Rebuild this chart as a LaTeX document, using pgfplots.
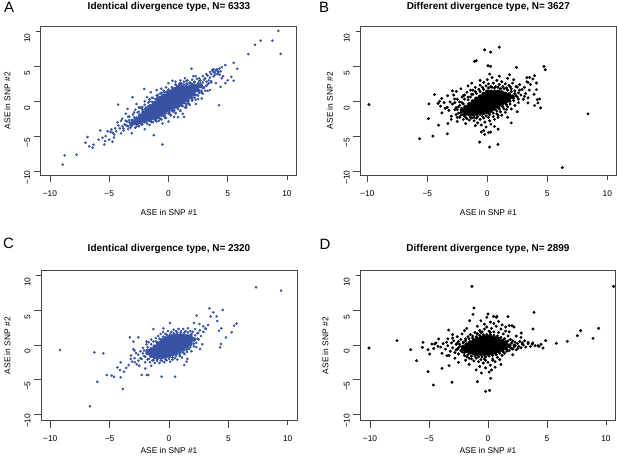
\documentclass[border=0pt]{standalone}
\usepackage{fontspec}
\setmainfont{Liberation Sans}
\usepackage{pgfplots}
\pgfplotsset{compat=1.18}
\definecolor{ptblue}{RGB}{56,82,164}
\definecolor{axgray}{RGB}{70,70,70}
\pgfplotsset{
  panel/.style={
    width=256bp,height=149.5bp,scale only axis,anchor=south west,
    axis line style={axgray,line width=0.6bp},
    xtick={-10,-5,0,5,10}, ytick={-10,-5,0,5,10},
    xticklabels={−10,−5,0,5,10}, yticklabels={−10,−5,0,5,10},
    xtick pos=bottom, ytick pos=left,
    tick align=outside, major tick length=7bp,
    tick style={axgray,line width=0.6bp,shorten <=2.4bp},
    tick label style={font=\fontsize{8.4}{9}\selectfont},
    xticklabel style={anchor=north,yshift=-4.5bp},
    yticklabel style={rotate=90,anchor=south,xshift=-6.5bp},
  },
  core/.style={only marks,mark=*,mark size=2.1pt},
  halo/.style={only marks,mark=*,mark size=1.1pt},
}
\begin{document}
\begin{tikzpicture}
\useasboundingbox (0,0) rectangle (617bp,459bp);
% ---------------- A ----------------
\begin{axis}[panel,at={(40.7bp,283.5bp)},xmin=-10.78,xmax=10.82,ymin=-10.65,ymax=10.8]
\addplot[core,color=ptblue] coordinates {
(-3.0,-3.1)
(-2.7,-3.1)(-2.7,-2.8)(-2.7,-2.5)
(-2.4,-2.95)(-2.4,-2.65)(-2.4,-2.35)(-2.4,-2.05)
(-2.1,-2.8)(-2.1,-2.5)(-2.1,-2.2)(-2.1,-1.9)(-2.1,-1.6)
(-1.8,-2.65)(-1.8,-2.35)(-1.8,-2.05)(-1.8,-1.75)(-1.8,-1.45)(-1.8,-1.15)
(-1.5,-2.5)(-1.5,-2.2)(-1.5,-1.9)(-1.5,-1.6)(-1.5,-1.3)(-1.5,-1.0)(-1.5,-0.7)
(-1.2,-2.35)(-1.2,-2.05)(-1.2,-1.75)(-1.2,-1.45)(-1.2,-1.15)(-1.2,-0.85)(-1.2,-0.55)(-1.2,-0.25)
(-0.9,-2.2)(-0.9,-1.9)(-0.9,-1.6)(-0.9,-1.3)(-0.9,-1.0)(-0.9,-0.7)(-0.9,-0.4)(-0.9,-0.1)(-0.9,0.2)
(-0.6,-1.9)(-0.6,-1.6)(-0.6,-1.3)(-0.6,-1.0)(-0.6,-0.7)(-0.6,-0.4)(-0.6,-0.1)(-0.6,0.2)(-0.6,0.5)
(-0.3,-1.6)(-0.3,-1.3)(-0.3,-1.0)(-0.3,-0.7)(-0.3,-0.4)(-0.3,-0.1)(-0.3,0.2)(-0.3,0.5)(-0.3,0.8)
(0,-1.3)(0,-1.0)(0,-0.7)(0,-0.4)(0,-0.1)(0,0.2)(0,0.5)(0,0.8)(0,1.1)
(0.3,-1.0)(0.3,-0.7)(0.3,-0.4)(0.3,-0.1)(0.3,0.2)(0.3,0.5)(0.3,0.8)(0.3,1.1)(0.3,1.4)
(0.6,-0.75)(0.6,-0.45)(0.6,-0.15)(0.6,0.15)(0.6,0.45)(0.6,0.75)(0.6,1.05)(0.6,1.35)(0.6,1.65)
(0.9,-0.5)(0.9,-0.2)(0.9,0.1)(0.9,0.4)(0.9,0.7)(0.9,1.0)(0.9,1.3)(0.9,1.6)(0.9,1.9)
(1.2,-0.15)(1.2,0.15)(1.2,0.45)(1.2,0.75)(1.2,1.05)(1.2,1.35)(1.2,1.65)(1.2,1.95)
(1.5,0.2)(1.5,0.5)(1.5,0.8)(1.5,1.1)(1.5,1.4)(1.5,1.7)(1.5,2.0)
(1.8,0.6)(1.8,0.9)(1.8,1.2)(1.8,1.5)(1.8,1.8)(1.8,2.1)
(2.1,1.0)(2.1,1.3)(2.1,1.6)(2.1,1.9)(2.1,2.2)
(2.4,1.6)(2.4,1.9)(2.4,2.2)
(2.7,2.2)
};
\addplot[halo,color=ptblue] coordinates {
(-3.4,-2.2)(-3.0,-1.9)(-2.8,-1.2)(-2.6,-1.6)(-2.4,-0.9)(-2.2,-1.2)(-2.0,-0.5)(-1.9,-0.9)(-1.7,-0.2)(-1.6,0.3)
(-1.4,-0.1)(-1.3,0.5)(-1.1,0.3)(-1.0,0.8)(-0.8,0.6)(-0.7,1.1)(-0.5,0.9)(-0.4,1.5)(-0.2,1.3)(0.0,1.7)
(0.1,1.5)(0.3,2.0)(0.5,1.9)(0.6,2.4)(0.8,2.2)(1.0,2.6)(1.1,2.3)(1.3,2.8)(1.5,2.5)(1.6,3.0)
(1.8,2.7)(2.0,3.1)(2.2,2.8)(2.4,3.2)(2.1,3.6)(2.7,3.0)(2.9,2.7)(3.1,3.3)(3.3,3.7)(3.6,3.9)
(3.8,4.2)(4.0,4.4)(4.2,4.1)(3.9,3.8)(4.1,4.6)(3.7,4.5)(4.4,4.3)
(-2.5,-3.6)(-2.2,-3.3)(-2.0,-3.0)(-1.8,-3.2)(-1.6,-2.8)(-1.4,-3.0)(-1.2,-2.6)(-1.0,-2.9)(-0.8,-2.4)(-0.6,-2.6)
(-0.4,-2.1)(-0.2,-2.4)(0.0,-1.8)(0.2,-2.0)(0.4,-1.5)(0.6,-1.7)(0.8,-1.1)(1.0,-1.3)(1.2,-0.7)(1.4,-0.9)
(1.6,-0.3)(1.8,-0.5)(2.0,0.1)(2.2,0.5)(2.4,0.9)(2.6,1.2)(2.8,1.5)(3.0,1.9)(3.2,2.2)(3.4,2.6)
(3.6,2.9)(2.9,1.1)(3.3,1.5)(2.5,0.3)
(-3.2,-3.2)(-3.4,-3.6)(-3.6,-3.4)(-3.8,-3.9)(-3.5,-2.9)(-3.1,-3.5)(-3.3,-2.7)(-2.9,-3.3)(-2.7,-3.6)
(-8.93,-9.1)(-8.76,-7.76)(-7.75,-7.67)(-7.0,-5.95)(-6.83,-5.14)(-6.69,-6.48)(-6.4,-6.67)(-6.32,-6.24)
(-5.56,-5.24)(-5.42,-6.19)(-5.34,-5.71)(-5.3,-5.0)(-4.72,-4.52)(-4.8,-4.05)(-4.58,-4.76)(-4.24,-3.48)
(-4.72,-5.81)(-5.76,-4.19)(-5.14,-4.29)(-4.9,-4.4)(-4.4,-4.3)(-4.1,-3.9)(-3.9,-3.6)(-3.7,-3.3)
(-3.5,-3.5)(-3.3,-3.0)(-3.6,-2.8)(-3.2,-3.4)(-3.0,-2.7)(-2.9,-3.2)(-4.3,-3.0)(-4.0,-4.6)(-3.8,-4.2)
(-4.5,-3.9)(-3.4,-4.0)(-2.8,-3.8)(-2.5,-3.5)(-3.9,-2.5)(-4.24,-0.48)(-3.45,-1.1)(-3.03,0.57)
(-2.05,1.76)(-1.24,-4.86)(-0.5,-6.2)(0.48,-2.24)(1.32,-2.24)(-5.0,-5.5)(-5.9,-5.5)(-4.6,-5.2)
(-3.1,-4.6)(-2.0,-4.0)(-1.6,-3.4)(-2.3,-1.0)(-2.7,-0.4)(-1.8,0.6)(-1.5,1.3)(-1.0,1.6)(-0.6,1.8)
(-0.2,2.0)(0.34,2.95)(0.0,2.6)(0.6,2.8)(1.0,3.0)(1.4,3.3)(1.94,4.67)(2.3,3.6)(2.6,3.3)(2.9,3.6)
(3.2,3.9)(3.5,4.2)(3.7,4.4)(3.9,4.1)(4.0,4.5)(4.2,4.3)(4.1,3.9)(3.8,4.6)(4.3,4.7)(4.5,4.9)
(4.6,3.6)(4.4,2.05)(4.8,2.6)(5.3,3.5)(5.5,2.95)(4.8,5.2)(5.5,5.5)(5.8,4.67)(4.27,-0.57)
(6.74,6.76)(7.3,8.1)(7.78,8.7)(8.76,8.7)(9.27,10.1)(9.47,6.8)(3.0,2.0)(3.3,2.4)(3.1,1.5)
(2.8,1.2)(2.5,0.8)(2.2,1.0)(2.0,0.3)(1.7,-0.3)(1.5,-0.9)(1.0,-1.4)(0.6,-1.7)(0.2,-2.0)
(-0.3,-2.4)(-0.8,-2.8)(-1.3,-3.0)(-0.5,-3.2)(0.0,-2.9)(3.4,3.0)(3.6,2.7)(2.7,2.6)(3.0,3.1)
(2.4,2.2)(2.6,1.6)(1.8,2.6)(1.5,2.9)(1.1,2.5)(0.7,2.2)(0.3,1.9)(-0.4,1.3)(-0.9,0.9)(-1.4,0.5)
(-2.0,0.0)(-2.5,-0.9)(-2.9,-1.6)(-3.3,-2.2)(-4.0,-2.8)(-3.6,-1.8)(2.3,-0.4)(2.8,0.4)(3.5,1.6)
(4.0,2.6)(4.5,3.3)(5.0,3.0)(1.2,-1.8)(0.8,-2.3)
(-2.5,-1.5)(-2.3,-3.3)(-2.0,-1.1)(-1.9,-2.9)(-1.7,-0.7)(-1.5,-2.9)(-1.3,-0.2)(-1.1,-2.7)(-0.9,0.5)(-0.7,-2.5)
(-0.5,0.7)(-0.3,-2.1)(-0.1,1.4)(0.1,-1.7)(0.4,1.7)(0.5,-1.3)(0.7,2.0)(0.8,-0.9)(1.0,2.3)(1.1,-0.6)
(1.3,2.4)(1.4,-0.3)(1.6,2.5)(1.7,0.1)(1.9,2.6)(2.0,0.5)(2.2,2.7)(2.3,0.9)(2.5,2.6)(2.6,1.4)
(2.8,2.3)(2.9,1.9)(2.6,2.9)(-2.9,-2.3)(-3.1,-2.7)(-3.2,-3.8)(-2.6,-3.2)(-2.3,-2.6)(-1.0,-2.5)(0.3,-1.4)
(1.5,-0.6)(2.3,0.2)(-1.6,0.0)(-0.6,1.2)(0.9,2.5)(2.0,2.5)(-2.2,-0.8)(3.2,2.8)(3.5,3.4)(3.8,3.6)(4.3,3.8)
};
\end{axis}
% ---------------- B ----------------
\begin{axis}[panel,at={(360.3bp,283.5bp)},xmin=-10.58,xmax=10.75,ymin=-10.65,ymax=10.8]
\addplot[core,color=black] coordinates {
(-2.1,-1.35)(-2.1,-1.15)
(-1.8,-1.75)(-1.8,-1.45)(-1.8,-1.15)(-1.8,-0.85)
(-1.5,-1.85)(-1.5,-1.55)(-1.5,-1.25)(-1.5,-0.95)(-1.5,-0.65)(-1.5,-0.45)
(-1.2,-1.85)(-1.2,-1.55)(-1.2,-1.25)(-1.2,-0.95)(-1.2,-0.65)(-1.2,-0.35)(-1.2,-0.05)
(-0.9,-1.75)(-0.9,-1.45)(-0.9,-1.15)(-0.9,-0.85)(-0.9,-0.55)(-0.9,-0.25)(-0.9,0.05)(-0.9,0.35)
(-0.6,-1.75)(-0.6,-1.45)(-0.6,-1.15)(-0.6,-0.85)(-0.6,-0.55)(-0.6,-0.25)(-0.6,0.05)(-0.6,0.35)(-0.6,0.65)
(-0.3,-1.65)(-0.3,-1.35)(-0.3,-1.05)(-0.3,-0.75)(-0.3,-0.45)(-0.3,-0.15)(-0.3,0.15)(-0.3,0.45)(-0.3,0.75)(-0.3,1.05)
(0,-1.55)(0,-1.25)(0,-0.95)(0,-0.65)(0,-0.35)(0,-0.05)(0,0.25)(0,0.55)(0,0.85)(0,1.15)(0,1.35)
(0.3,-1.35)(0.3,-1.05)(0.3,-0.75)(0.3,-0.45)(0.3,-0.15)(0.3,0.15)(0.3,0.45)(0.3,0.75)(0.3,1.05)(0.3,1.35)
(0.6,-1.05)(0.6,-0.75)(0.6,-0.45)(0.6,-0.15)(0.6,0.15)(0.6,0.45)(0.6,0.75)(0.6,1.05)(0.6,1.35)
(0.9,-0.75)(0.9,-0.45)(0.9,-0.15)(0.9,0.15)(0.9,0.45)(0.9,0.75)(0.9,1.05)(0.9,1.35)
(1.2,-0.45)(1.2,-0.15)(1.2,0.15)(1.2,0.45)(1.2,0.75)(1.2,1.05)(1.2,1.25)
(1.5,-0.15)(1.5,0.15)(1.5,0.45)(1.5,0.75)(1.5,1.05)
(1.8,0.15)(1.8,0.45)(1.8,0.75)(1.8,0.95)
(2.1,0.65)
};
\addplot[halo,mark size=1.3pt,color=black] coordinates {
(-2.9,-0.4)(-2.7,-1.2)(-2.6,-1.9)(-2.5,0.3)(-2.4,-0.8)(-2.3,-2.3)(-2.3,-0.1)(-2.2,-1.6)(-2.1,0.6)(-2.0,-2.6)
(-2.0,-0.4)(-1.9,0.9)(-1.9,-2.2)(-1.7,1.3)(-1.7,-2.5)(-1.6,0.2)(-1.5,-2.7)(-1.4,0.6)(-1.4,1.6)(-1.3,-2.4)
(-1.2,1.0)(-1.1,-2.8)(-1.0,1.4)(-1.0,2.0)(-0.9,-2.4)(-0.8,-3.1)(-0.7,1.7)(-0.6,2.3)(-0.6,-2.6)(-0.5,-3.4)
(-0.4,2.0)(-0.3,-2.4)(-0.3,2.7)(-0.2,-3.0)(-0.1,2.2)(-0.1,-3.7)(0.0,3.1)(0.1,-2.3)(0.1,2.5)(0.2,-2.8)
(0.3,2.1)(0.3,-3.3)(0.4,3.4)(0.5,-2.2)(0.5,2.6)(0.6,-2.6)(0.7,2.1)(0.8,-1.8)(0.8,3.0)(0.9,-2.3)
(1.0,2.4)(1.1,-1.5)(1.2,2.8)(1.2,-2.0)(1.3,2.1)(1.4,-1.1)(1.5,2.5)(1.5,-1.6)(1.6,1.9)(1.7,-0.8)
(1.8,2.3)(1.9,-0.4)(2.0,1.8)(2.0,-1.1)(2.1,2.6)(2.2,0.1)(2.3,1.5)(2.3,-0.6)(2.4,2.1)(2.5,0.6)
(2.6,1.2)(2.6,-0.2)(2.7,2.4)(2.8,0.9)(2.9,1.7)(3.0,0.3)(3.1,2.0)(3.2,1.1)(3.3,2.8)(3.4,0.5)
(3.5,1.6)(3.6,2.4)(2.2,3.1)(1.7,3.3)(1.0,3.6)(0.2,3.9)(-0.6,3.0)(-1.3,2.6)(-2.8,0.9)(-3.1,-0.1)
(-3.2,-1.3)(-2.5,-2.9)(-1.8,-3.2)(-1.0,-3.5)(0.6,-3.6)(1.7,-2.3)(2.5,-1.5)
(-3.6,-0.2)(-3.8,0.4)(-3.5,-1.0)(-4.1,-0.3)(-3.3,0.8)(-2.9,1.5)(-3.0,-2.6)(-2.2,1.8)(-1.6,2.2)(3.8,3.2)
(3.9,1.0)(3.3,3.4)(0.9,-4.0)(-0.3,-4.2)(0.1,-4.5)(-0.5,-4.4)
(-9.86,-0.48)(-5.64,-5.38)(-4.53,-5.0)(-3.33,-4.67)(-4.9,-2.5)(-4.86,-0.38)(-4.4,0.95)(-3.97,0.0)
(-3.9,-0.7)(-3.78,-1.67)(-4.06,-3.43)(-3.28,-3.19)(-3.0,-2.14)(-2.58,1.43)(-2.72,0.33)(-3.33,-0.86)
(-1.06,5.71)(-0.92,5.81)(-0.22,7.38)(0.28,7.05)(1.0,7.76)(0.06,5.1)(0.28,5.0)(2.42,4.86)
(4.72,5.0)(4.83,4.52)(1.86,3.81)(-0.64,-5.86)(0.89,-6.19)(0.19,-6.57)(-0.22,-4.76)(0.28,-4.43)
(2.0,-3.1)(8.39,-1.81)(6.25,-9.52)(4.17,0.24)(4.22,-0.24)(4.36,0.33)(4.44,-0.95)(3.94,-0.62)
(4.1,1.67)(4.1,2.62)(3.39,2.71)(3.53,3.43)(3.94,3.67)(2.5,2.05)(3.1,0.71)(3.39,-0.24)
(-2.5,-1.2)(-2.4,-1.7)(-2.3,-0.6)(-2.2,-2.0)(-2.1,-0.2)(-2.0,-1.9)(-1.9,0.3)(-1.8,-2.3)(-1.6,0.6)(-1.4,-2.3)
(-1.3,1.0)(-1.1,-2.3)(-0.9,1.1)(-0.8,-2.2)(-0.6,1.4)(-0.4,-2.2)(-0.3,1.7)(-0.1,-2.1)(0.1,1.9)(0.2,-1.9)
(0.4,2.0)(0.5,-1.7)(0.6,1.9)(0.8,-1.4)(0.9,2.0)(1.0,-1.1)(1.1,1.8)(1.3,-0.8)(1.4,1.8)(1.6,-0.5)
(1.7,1.6)(1.9,0.0)(2.0,1.4)(2.2,0.4)(2.3,1.1)(2.4,0.8)(-2.6,-0.9)(-2.7,-0.2)(2.6,0.3)(2.7,1.6)
(1.9,2.1)(-1.2,1.6)(-2.0,0.8)(-2.5,-2.3)(0.9,-2.0)(1.6,-1.2)
};
\end{axis}
% ---------------- C ----------------
\begin{axis}[panel,at={(41bp,38.3bp)},height=150bp,xmin=-10.78,xmax=10.78,ymin=-10.92,ymax=10.72]
\addplot[core,color=ptblue] coordinates {
(-1.8,-1.15)(-1.8,-0.85)
(-1.5,-1.55)(-1.5,-1.25)(-1.5,-0.95)(-1.5,-0.65)
(-1.2,-1.75)(-1.2,-1.45)(-1.2,-1.15)(-1.2,-0.85)(-1.2,-0.55)(-1.2,-0.25)
(-0.9,-1.75)(-0.9,-1.45)(-0.9,-1.15)(-0.9,-0.85)(-0.9,-0.55)(-0.9,-0.25)(-0.9,0.05)(-0.9,0.25)
(-0.6,-1.75)(-0.6,-1.45)(-0.6,-1.15)(-0.6,-0.85)(-0.6,-0.55)(-0.6,-0.25)(-0.6,0.05)(-0.6,0.35)(-0.6,0.65)
(-0.3,-1.65)(-0.3,-1.35)(-0.3,-1.05)(-0.3,-0.75)(-0.3,-0.45)(-0.3,-0.15)(-0.3,0.15)(-0.3,0.45)(-0.3,0.75)(-0.3,0.95)
(0,-1.55)(0,-1.25)(0,-0.95)(0,-0.65)(0,-0.35)(0,-0.05)(0,0.25)(0,0.55)(0,0.85)(0,1.15)
(0.3,-1.35)(0.3,-1.05)(0.3,-0.75)(0.3,-0.45)(0.3,-0.15)(0.3,0.15)(0.3,0.45)(0.3,0.75)(0.3,1.05)(0.3,1.25)
(0.6,-1.15)(0.6,-0.85)(0.6,-0.55)(0.6,-0.25)(0.6,0.05)(0.6,0.35)(0.6,0.65)(0.6,0.95)(0.6,1.25)(0.6,1.35)
(0.9,-0.95)(0.9,-0.65)(0.9,-0.35)(0.9,-0.05)(0.9,0.25)(0.9,0.55)(0.9,0.85)(0.9,1.15)(0.9,1.35)
(1.2,-0.65)(1.2,-0.35)(1.2,-0.05)(1.2,0.25)(1.2,0.55)(1.2,0.85)(1.2,1.15)(1.2,1.35)
(1.5,-0.25)(1.5,0.05)(1.5,0.35)(1.5,0.65)(1.5,0.95)(1.5,1.25)
(1.8,0.15)(1.8,0.45)(1.8,0.75)(1.8,1.05)(1.8,1.25)
(2.1,0.8)
};
\addplot[halo,color=ptblue] coordinates {
(-2.6,-1.4)(-2.4,-0.9)(-2.3,-2.0)(-2.2,-0.4)(-2.1,-1.6)(-2.0,-2.5)(-1.9,0.1)(-1.8,-2.1)(-1.7,0.4)(-1.6,-2.5)
(-1.5,0.8)(-1.4,-2.2)(-1.3,0.5)(-1.2,-2.6)(-1.1,1.0)(-1.0,-2.3)(-0.9,1.3)(-0.8,-2.6)(-0.7,1.6)(-0.6,-2.3)
(-0.5,1.9)(-0.4,-2.5)(-0.3,1.6)(-0.2,-2.2)(-0.1,2.0)(0.1,-2.4)(0.2,1.9)(0.3,-2.1)(0.4,2.2)(0.5,-1.9)
(0.6,2.0)(0.7,-2.1)(0.8,2.3)(0.9,-1.6)(1.0,2.0)(1.1,-1.8)(1.2,2.3)(1.3,-1.3)(1.4,2.0)(1.5,-1.0)
(1.6,2.4)(1.7,-0.6)(1.8,2.0)(1.9,-0.9)(2.0,1.9)(2.1,-0.2)(2.2,2.3)(2.3,0.3)(2.4,1.7)(2.5,0.8)
(2.6,2.1)(2.7,1.3)(2.9,1.9)(3.1,2.3)(3.3,2.9)(2.8,0.1)(-2.9,-1.9)(-3.1,-2.4)(-2.7,-2.8)(-3.4,-2.9)
(-3.6,-3.3)(-2.5,-3.0)(-2.0,-3.4)(-1.5,-3.0)(-2.9,-0.8)(-3.2,-1.5)
(-9.19,-0.72)(-6.29,-1.06)(-5.53,-1.2)(-6.04,-5.29)(-6.66,-8.85)(-5.25,-4.33)(-4.83,-4.42)(-4.63,-4.57)
(-4.35,-3.22)(-4.13,-3.6)(-4.07,-4.66)(-3.9,-6.35)(-4.07,-2.5)(-3.79,-3.85)(-2.3,-4.33)(-1.88,-4.33)
(-1.74,-4.33)(-0.62,-4.57)(0.51,-4.57)(-3.29,1.1)(-3.0,0.48)(-2.58,1.1)(-3.0,-0.58)(-3.23,-2.02)
(-2.87,-2.5)(-2.58,-2.26)(-2.78,-1.15)(-1.32,2.3)(-0.48,2.4)(0.08,3.17)(1.29,-2.88)(1.49,-2.4)
(1.54,-2.0)(2.1,3.17)(2.56,3.03)(2.89,2.7)(3.06,2.4)(2.61,-0.58)(3.4,5.29)(3.74,4.71)
(3.51,4.13)(4.52,5.05)(4.07,3.46)(4.02,4.13)(4.21,2.07)(4.41,2.4)(4.38,0.14)(4.3,-0.34)
(4.8,1.1)(5.28,1.83)(5.48,2.79)(5.7,3.08)(7.33,8.32)(9.44,7.84)(2.33,4.23)(2.47,1.73)
(-2.2,-1.2)(-2.1,-0.8)(-2.0,-1.7)(-1.8,-0.3)(-1.7,-2.0)(-1.5,0.1)(-1.3,-2.2)(-1.1,0.5)(-1.0,-2.1)(-0.8,0.9)
(-0.7,-2.2)(-0.5,1.2)(-0.3,-2.1)(-0.2,1.5)(0.0,-2.0)(0.1,1.6)(0.3,-1.8)(0.4,1.7)(0.6,-1.6)(0.7,1.8)
(0.9,-1.4)(1.0,1.8)(1.2,-1.1)(1.3,1.8)(1.5,-0.7)(1.6,1.8)(1.8,-0.3)(1.9,1.6)(2.1,0.2)(2.2,1.4)
(2.4,0.9)(2.3,-0.3)(-2.4,-1.9)(-1.9,0.5)
};
\end{axis}
% ---------------- D ----------------
\begin{axis}[panel,at={(360.3bp,38.3bp)},width=255bp,height=150bp,xmin=-10.82,xmax=10.79,ymin=-10.92,ymax=10.72]
\addplot[core,color=black] coordinates {
(-2.1,-0.6)(-2.1,-0.3)
(-1.8,-0.85)(-1.8,-0.55)(-1.8,-0.25)(-1.8,0.05)
(-1.5,-1.05)(-1.5,-0.75)(-1.5,-0.45)(-1.5,-0.15)(-1.5,0.15)(-1.5,0.35)
(-1.2,-1.15)(-1.2,-0.85)(-1.2,-0.55)(-1.2,-0.25)(-1.2,0.05)(-1.2,0.35)(-1.2,0.65)
(-0.9,-1.25)(-0.9,-0.95)(-0.9,-0.65)(-0.9,-0.35)(-0.9,-0.05)(-0.9,0.25)(-0.9,0.55)(-0.9,0.85)
(-0.6,-1.25)(-0.6,-0.95)(-0.6,-0.65)(-0.6,-0.35)(-0.6,-0.05)(-0.6,0.25)(-0.6,0.55)(-0.6,0.85)(-0.6,1.05)
(-0.3,-1.25)(-0.3,-0.95)(-0.3,-0.65)(-0.3,-0.35)(-0.3,-0.05)(-0.3,0.25)(-0.3,0.55)(-0.3,0.85)(-0.3,1.15)
(0,-1.25)(0,-0.95)(0,-0.65)(0,-0.35)(0,-0.05)(0,0.25)(0,0.55)(0,0.85)(0,1.15)
(0.3,-1.15)(0.3,-0.85)(0.3,-0.55)(0.3,-0.25)(0.3,0.05)(0.3,0.35)(0.3,0.65)(0.3,0.95)(0.3,1.05)
(0.6,-1.05)(0.6,-0.75)(0.6,-0.45)(0.6,-0.15)(0.6,0.15)(0.6,0.45)(0.6,0.75)(0.6,0.95)
(0.9,-0.85)(0.9,-0.55)(0.9,-0.25)(0.9,0.05)(0.9,0.35)(0.9,0.65)(0.9,0.85)
(1.2,-0.65)(1.2,-0.35)(1.2,-0.05)(1.2,0.25)(1.2,0.55)
(1.5,-0.45)(1.5,-0.15)(1.5,0.15)(1.5,0.35)
(1.8,-0.1)
};
\addplot[halo,mark size=1.3pt,color=black] coordinates {
(-4.0,-0.3)(-3.8,0.2)(-3.6,-0.6)(-3.5,0.4)(-3.4,-0.1)(-3.2,-0.9)(-3.1,0.3)(-3.0,-0.4)(-2.9,0.6)(-2.8,-1.1)
(-2.7,0.1)(-2.6,-0.6)(-2.5,0.5)(-2.5,-1.3)(-2.4,-0.2)(-2.3,0.8)(-2.2,-1.0)(-2.1,0.4)(-2.0,-1.5)(-1.9,0.9)
(-1.8,-1.7)(-1.7,1.2)(-1.6,-1.9)(-1.5,1.5)(-1.4,-2.0)(-1.3,1.3)(-1.2,-2.3)(-1.1,1.8)(-1.0,-1.9)(-0.9,1.6)
(-0.8,-2.4)(-0.7,2.1)(-0.6,-2.1)(-0.5,1.9)(-0.4,-2.6)(-0.3,2.3)(-0.2,-2.2)(-0.1,2.6)(0.0,-2.5)(0.1,2.0)
(0.2,-2.9)(0.3,2.4)(0.4,-2.0)(0.5,1.9)(0.6,-2.4)(0.7,2.7)(0.8,-1.8)(0.9,1.8)(1.0,-2.1)(1.1,2.3)
(1.2,-1.5)(1.3,1.6)(1.4,-1.2)(1.5,2.0)(1.6,-0.9)(1.7,1.3)(1.8,-0.8)(1.9,0.8)(2.0,-0.5)(2.1,0.6)
(2.2,-0.3)(2.3,0.4)(2.4,-0.7)(2.5,0.2)(2.6,-0.2)(2.7,0.5)(2.8,-0.4)(2.9,0.3)(3.0,0.0)(3.1,0.6)
(3.2,-0.3)(3.4,0.2)(3.6,-0.2)(3.8,0.3)(4.0,-0.1)
(-0.3,3.0)(0.2,3.3)(-0.6,3.5)(0.5,3.1)(0.9,3.4)(1.2,2.9)(-0.9,2.7)(1.5,2.6)(-0.2,-3.3)(0.3,-3.6)
(-0.7,-3.1)(0.6,-3.2)(-1.0,-3.6)(0.1,-3.9)(-1.6,-2.8)(-1.9,-2.2)(1.1,-2.8)(-2.6,1.2)(-2.2,1.6)(-3.0,1.0)
(1.8,1.9)(2.4,1.3)(2.1,-1.4)(2.8,1.1)(-4.4,0.3)(-4.6,-0.5)(-3.9,-1.2)(-3.3,-1.5)(-2.8,-1.9)(-2.5,-2.5)
(-3.0,1.5)(-3.4,0.9)(-1.8,2.4)(1.8,2.8)(2.2,2.6)(0.7,4.0)(-0.1,4.0)
(-10.08,-0.43)(-7.71,0.63)(-6.55,-0.67)(-6.05,-2.26)(-5.51,0.38)(-5.56,-0.34)(-5.08,-0.67)(-4.94,-1.3)
(-5.08,-3.85)(-4.63,-5.77)(-4.75,0.14)(-4.52,0.14)(-4.24,-0.19)(-4.18,0.87)(-3.9,-3.37)(-3.33,2.16)
(-3.3,-2.98)(-3.05,-5.38)(-3.47,-1.54)(-1.36,8.46)(-1.19,5.34)(-1.27,4.42)(-1.55,3.51)(-1.98,2.07)
(-0.9,-5.29)(-0.2,-6.68)(0.14,-6.54)(0.23,-4.81)(-0.56,-4.04)(0.0,4.47)(0.48,4.13)(0.76,4.13)
(1.69,4.09)(2.03,2.79)(2.82,1.73)(2.91,0.14)(3.76,0.14)(3.81,2.31)(3.9,4.71)(4.32,-0.19)
(4.66,-0.43)(4.89,0.63)(5.79,0.24)(6.72,0.53)(7.57,1.35)(7.85,2.07)(8.9,0.96)(9.38,2.4)
(10.65,8.46)(4.24,-0.1)(4.5,0.1)(3.4,0.4)(2.54,-0.48)
(-2.5,-0.4)(-2.4,0.1)(-2.3,-0.8)(-2.1,0.3)(-2.0,-1.1)(-1.9,0.6)(-1.7,-1.4)(-1.6,0.9)(-1.4,-1.6)(-1.3,1.0)
(-1.1,-1.6)(-1.0,1.2)(-0.8,-1.7)(-0.7,1.4)(-0.5,-1.7)(-0.4,1.5)(-0.2,-1.7)(-0.1,1.5)(0.1,-1.6)(0.2,1.5)
(0.4,-1.5)(0.5,1.4)(0.7,-1.4)(0.8,1.3)(1.0,-1.2)(1.1,1.1)(1.3,-1.0)(1.4,0.9)(1.6,-0.7)(1.7,0.6)
(1.9,-0.4)(2.0,0.3)(2.2,0.0)(-2.7,-0.7)(-2.6,0.3)(2.3,-0.1)(2.1,-0.6)(-0.3,-2.0)(0.4,-2.2)(-0.6,1.8)(0.2,1.8)
};
\end{axis}
% ---------------- texts ----------------
\begin{scope}[every node/.style={inner sep=0pt}]
\node[font=\fontsize{15}{15}\selectfont] at (9bp,451.5bp) {A};
\node[font=\fontsize{15}{15}\selectfont] at (324bp,451.5bp) {B};
\node[font=\fontsize{15}{15}\selectfont] at (8.5bp,216bp) {C};
\node[font=\fontsize{15}{15}\selectfont] at (325bp,214.5bp) {D};
\node[font=\bfseries\fontsize{10}{12}\selectfont] at (169bp,451.7bp) {Identical divergence type, N= 6333};
\node[font=\bfseries\fontsize{10}{12}\selectfont] at (488.3bp,451.7bp) {Different divergence type, N= 3627};
\node[font=\bfseries\fontsize{10}{12}\selectfont] at (169bp,210bp) {Identical divergence type, N= 2320};
\node[font=\bfseries\fontsize{10}{12}\selectfont] at (488bp,210bp) {Different divergence type, N= 2899};
\node[font=\fontsize{8.4}{10}\selectfont] at (169bp,246.7bp) {ASE in SNP \#1};
\node[font=\fontsize{8.4}{10}\selectfont] at (488.3bp,246.7bp) {ASE in SNP \#1};
\node[font=\fontsize{8.4}{10}\selectfont] at (169bp,8bp) {ASE in SNP \#1};
\node[font=\fontsize{8.4}{10}\selectfont] at (488bp,8bp) {ASE in SNP \#1};
\node[font=\fontsize{8.4}{10}\selectfont,rotate=90] at (7.3bp,358.3bp) {ASE in SNP \#2};
\node[font=\fontsize{8.4}{10}\selectfont,rotate=90] at (330bp,358.3bp) {ASE in SNP \#2};
\node[font=\fontsize{8.4}{10}\selectfont,rotate=90] at (7.3bp,113.3bp) {ASE in SNP \#2};
\node[font=\fontsize{8.4}{10}\selectfont,rotate=90] at (325.5bp,113.3bp) {ASE in SNP \#2};
\end{scope}
\end{tikzpicture}
\end{document}
